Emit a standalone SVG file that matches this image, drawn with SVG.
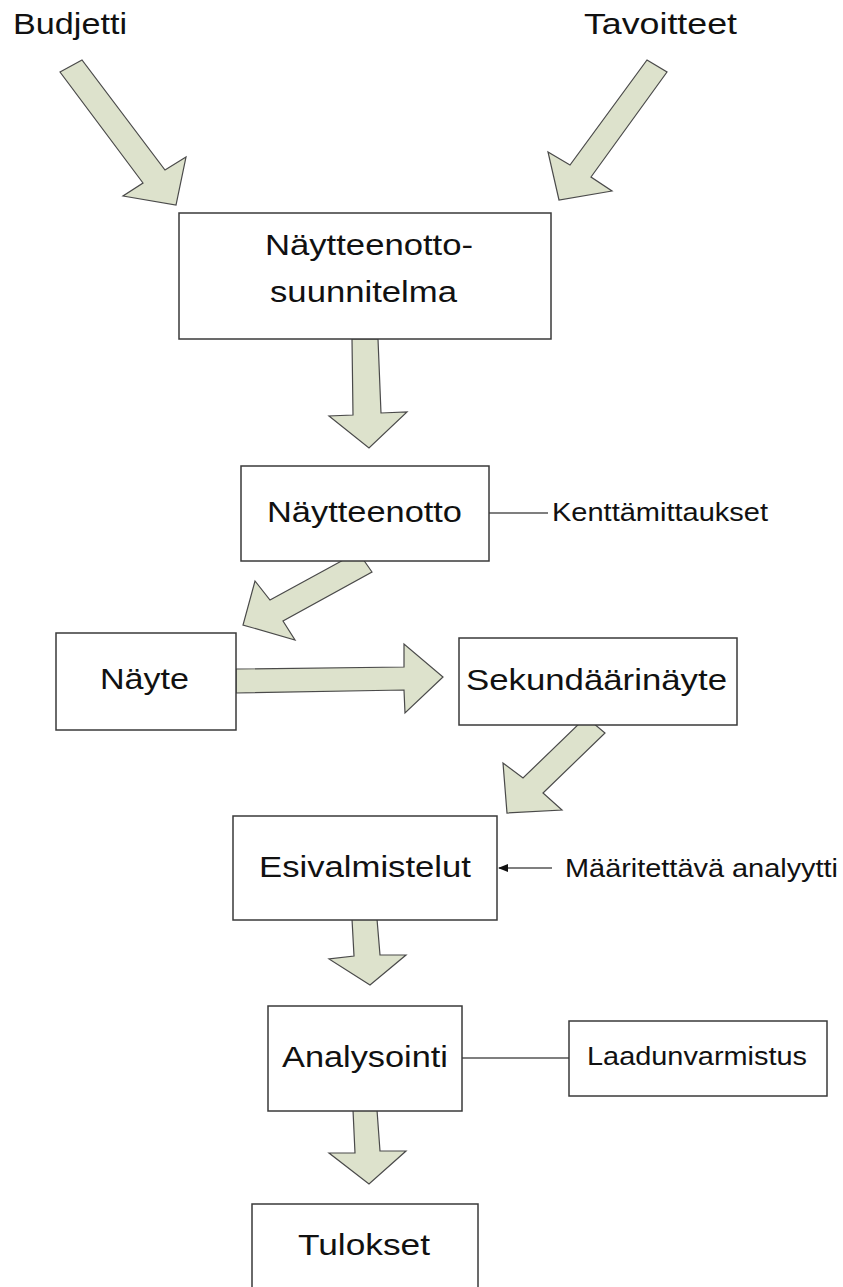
<svg xmlns="http://www.w3.org/2000/svg" width="843" height="1287" viewBox="0 0 843 1287">
<style>
.box{fill:#fff;stroke:#3a3a3a;stroke-width:1.5}
.arr{fill:#dde2cc;stroke:#4a4a4a;stroke-width:1.2;stroke-linejoin:miter}
.ln{stroke:#555;stroke-width:1.5;fill:none}
text{font-family:"Liberation Sans",Arial,sans-serif;fill:#111;lengthAdjust:spacingAndGlyphs}
.t{font-size:30px}
.s{font-size:25px}
</style>
<defs>
<marker id="ah" markerWidth="10" markerHeight="8" refX="9" refY="4" orient="auto" markerUnits="userSpaceOnUse">
<path d="M0,0 L10,4 L0,8 Z" fill="#111"/>
</marker>
</defs>
<g id="labels">
<text class="t" x="13" y="34" textLength="114" lengthAdjust="spacingAndGlyphs">Budjetti</text>
<text class="t" x="584" y="34" textLength="153" lengthAdjust="spacingAndGlyphs">Tavoitteet</text>
</g>
<g id="connectors">
<polygon class="arr" points="60,72 82,60 165,170 186,157 176,205 123,196 143,183"/>
<polygon class="arr" points="647,60 667,72 591,177 612,191 559,200 548,152 570,165"/>
<polygon class="arr" points="352,339 378,339 381,413 407,412 369,448 329,416 353,415"/>
<polygon class="arr" points="372,572 358,552 270,600 255,581 243,625 295,640 283,621"/>
<polygon class="arr" points="236,669 404,667 404,644 443,677 405,713 404,690 236,693"/>
<polygon class="arr" points="586,717 605,733 543,793 562,810 507,813 503,763 523,778"/>
<polygon class="arr" points="352,919 377,919 380,955 406,955 370,985 329,959 354,956"/>
<polygon class="arr" points="353,1110 377,1110 380,1151 406,1151 369,1184 329,1153 355,1153"/>
<line class="ln" x1="489" y1="513" x2="548" y2="513"/>
<line class="ln" x1="552" y1="868" x2="499" y2="868" stroke="#111" marker-end="url(#ah)"/>
<line class="ln" x1="462" y1="1058" x2="569" y2="1058"/>
</g>
<g id="n-suunnitelma">
<rect class="box" x="179" y="213" width="372" height="126"/>
<text class="t" x="265" y="255" textLength="208" lengthAdjust="spacingAndGlyphs">Näytteenotto-</text>
<text class="t" x="270" y="302" textLength="187" lengthAdjust="spacingAndGlyphs">suunnitelma</text>
</g>
<g id="n-naytteenotto">
<rect class="box" x="241" y="466" width="248" height="95"/>
<text class="t" x="267" y="522" textLength="195" lengthAdjust="spacingAndGlyphs">Näytteenotto</text>
</g>
<g id="n-kenttamittaukset">
<text class="s" x="552" y="521" textLength="216" lengthAdjust="spacingAndGlyphs">Kenttämittaukset</text>
</g>
<g id="n-nayte">
<rect class="box" x="56" y="633" width="180" height="97"/>
<text class="t" x="100" y="689" textLength="89" lengthAdjust="spacingAndGlyphs">Näyte</text>
</g>
<g id="n-sekundaarinayte">
<rect class="box" x="459" y="638" width="278" height="87"/>
<text class="t" x="466" y="690" textLength="261" lengthAdjust="spacingAndGlyphs">Sekundäärinäyte</text>
</g>
<g id="n-esivalmistelut">
<rect class="box" x="233" y="816" width="264" height="104"/>
<text class="t" x="259" y="877" textLength="212" lengthAdjust="spacingAndGlyphs">Esivalmistelut</text>
</g>
<g id="n-analyytti">
<text class="s" x="565" y="877" textLength="273" lengthAdjust="spacingAndGlyphs">Määritettävä analyytti</text>
</g>
<g id="n-analysointi">
<rect class="box" x="268" y="1006" width="194" height="105"/>
<text class="t" x="282" y="1067" textLength="166" lengthAdjust="spacingAndGlyphs">Analysointi</text>
</g>
<g id="n-laadunvarmistus">
<rect class="box" x="569" y="1021" width="258" height="75"/>
<text class="s" x="587" y="1065" textLength="220" lengthAdjust="spacingAndGlyphs">Laadunvarmistus</text>
</g>
<g id="n-tulokset">
<rect class="box" x="252" y="1204" width="226" height="100"/>
<text class="t" x="298" y="1255" textLength="132" lengthAdjust="spacingAndGlyphs">Tulokset</text>
</g>
</svg>
